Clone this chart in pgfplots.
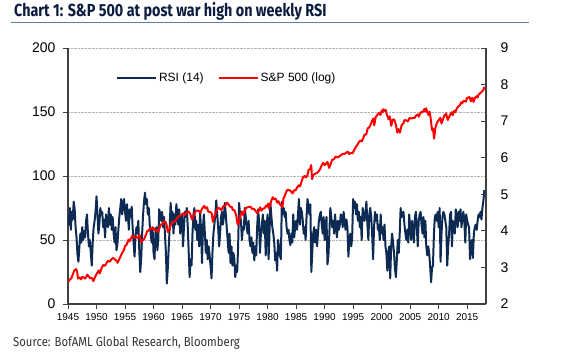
\documentclass[border=0pt]{standalone}
\usepackage{fontspec}
\setmainfont{Liberation Sans}
\newfontfamily\titlefont{Fira Sans}[FakeStretch=0.82]
\newfontfamily\sourcefont{Fira Sans}[FakeStretch=0.87]
\usepackage{pgfplots}
\pgfplotsset{compat=1.18}
\definecolor{rsi}{HTML}{0C2A52}
\definecolor{spx}{HTML}{FF0000}
\definecolor{axgray}{HTML}{404040}
\definecolor{titlecol}{HTML}{0B1B3F}
\definecolor{ulblue}{HTML}{5A7DB5}
\definecolor{srccol}{HTML}{333333}
\begin{document}
\begin{tikzpicture}
\path[use as bounding box] (-68bp,-54bp) rectangle (502bp,304bp);
\begin{axis}[
  at={(0,0)}, anchor=south west,
  scale only axis, width=418bp, height=256bp,
  xmin=1945, xmax=2018.3, ymin=0, ymax=200,
  axis x line*=bottom, axis y line*=left,
  axis line style={axgray, line width=1.2pt, -},
  xtick={1945,1950,...,2015}, ytick={0,50,...,200},
  /pgf/number format/assume math mode=true,
  /pgf/number format/1000 sep={},
  x tick label style={font=\fontsize{10bp}{10bp}\selectfont, yshift=-1bp},
  y tick label style={font=\fontsize{14bp}{14bp}\selectfont, xshift=-4bp},
  tick align=outside, major tick length=5bp,
  tick style={axgray, line width=1pt},
  ymajorgrids, grid style={densely dotted, gray!60, line width=0.7pt},
]
\addplot[rsi, line width=2pt, line join=round] coordinates {
(1945.00,70)(1945.17,62)(1945.33,75)(1945.50,58)(1945.67,72)(1945.83,66)
(1946.00,80)(1946.17,74)(1946.33,60)(1946.50,52)(1946.67,38)(1946.83,33)
(1947.00,45)(1947.17,55)(1947.33,48)(1947.50,60)(1947.67,50)(1947.83,57)
(1948.00,52)(1948.17,65)(1948.33,70)(1948.50,55)(1948.67,45)(1948.83,50)
(1949.00,40)(1949.17,30)(1949.33,48)(1949.50,60)(1949.67,65)(1949.83,72)
(1950.00,84)(1950.17,70)(1950.33,55)(1950.50,62)(1950.67,75)(1950.83,70)
(1951.00,72)(1951.17,60)(1951.33,66)(1951.50,52)(1951.67,70)(1951.83,64)
(1952.00,60)(1952.17,75)(1952.33,62)(1952.50,70)(1952.67,58)(1952.83,68)
(1953.00,55)(1953.17,48)(1953.33,60)(1953.50,42)(1953.67,47)(1953.83,58)
(1954.00,68)(1954.17,75)(1954.33,82)(1954.50,70)(1954.67,78)(1954.83,82)
(1955.00,72)(1955.17,65)(1955.33,78)(1955.50,70)(1955.67,58)(1955.83,74)
(1956.00,68)(1956.17,76)(1956.33,60)(1956.50,48)(1956.67,37)(1956.83,52)
(1957.00,60)(1957.17,55)(1957.33,65)(1957.50,42)(1957.67,25)(1957.83,35)
(1958.00,55)(1958.17,70)(1958.33,80)(1958.50,87)(1958.67,78)(1958.83,82)
(1959.00,70)(1959.17,75)(1959.33,62)(1959.50,55)(1959.67,48)(1959.83,60)
(1960.00,40)(1960.17,35)(1960.33,55)(1960.50,60)(1960.67,42)(1960.83,50)
(1961.00,74)(1961.17,70)(1961.33,65)(1961.50,72)(1961.67,60)(1961.83,68)
(1962.00,55)(1962.17,40)(1962.33,16)(1962.50,28)(1962.67,45)(1962.83,60)
(1963.00,79)(1963.17,65)(1963.33,72)(1963.50,55)(1963.67,70)(1963.83,62)
(1964.00,78)(1964.17,70)(1964.33,62)(1964.50,74)(1964.67,55)(1964.83,66)
(1965.00,70)(1965.17,45)(1965.33,60)(1965.50,72)(1965.67,68)(1965.83,75)
(1966.00,60)(1966.17,40)(1966.33,21)(1966.50,35)(1966.67,30)(1966.83,55)
(1967.00,70)(1967.17,75)(1967.33,58)(1967.50,65)(1967.67,50)(1967.83,62)
(1968.00,45)(1968.17,72)(1968.33,58)(1968.50,32)(1968.67,60)(1968.83,70)
(1969.00,55)(1969.17,40)(1969.33,50)(1969.50,35)(1969.67,45)(1969.83,38)
(1970.00,30)(1970.17,20)(1970.33,40)(1970.50,55)(1970.67,62)(1970.83,70)
(1971.00,81)(1971.17,70)(1971.33,60)(1971.50,45)(1971.67,55)(1971.83,68)
(1972.00,72)(1972.17,62)(1972.33,68)(1972.50,79)(1972.67,70)(1972.83,60)
(1973.00,50)(1973.17,40)(1973.33,55)(1973.50,32)(1973.67,45)(1973.83,30)
(1974.00,40)(1974.17,35)(1974.33,21)(1974.50,30)(1974.67,25)(1974.83,45)
(1975.00,79)(1975.17,70)(1975.33,65)(1975.50,50)(1975.67,60)(1975.83,58)
(1976.00,75)(1976.17,68)(1976.33,60)(1976.50,55)(1976.67,65)(1976.83,50)
(1977.00,45)(1977.17,52)(1977.33,40)(1977.50,48)(1977.67,34)(1977.83,45)
(1978.00,38)(1978.17,60)(1978.33,74)(1978.50,65)(1978.67,40)(1978.83,55)
(1979.00,62)(1979.17,70)(1979.33,55)(1979.50,65)(1979.67,38)(1979.83,60)
(1980.00,70)(1980.17,35)(1980.33,55)(1980.50,79)(1980.67,68)(1980.83,60)
(1981.00,55)(1981.17,48)(1981.33,34)(1981.50,40)(1981.67,26)(1981.83,50)
(1982.00,45)(1982.17,38)(1982.33,35)(1982.50,80)(1982.67,70)(1982.83,75)
(1983.00,68)(1983.17,72)(1983.33,60)(1983.50,55)(1983.67,58)(1983.83,50)
(1984.00,46)(1984.17,55)(1984.33,48)(1984.50,70)(1984.67,52)(1984.83,60)
(1985.00,65)(1985.17,58)(1985.33,70)(1985.50,82)(1985.67,62)(1985.83,75)
(1986.00,72)(1986.17,65)(1986.33,55)(1986.50,60)(1986.67,50)(1986.83,68)
(1987.00,82)(1987.17,75)(1987.33,70)(1987.50,78)(1987.67,25)(1987.83,40)
(1988.00,55)(1988.17,60)(1988.33,48)(1988.50,58)(1988.67,45)(1988.83,55)
(1989.00,65)(1989.17,70)(1989.33,72)(1989.50,62)(1989.67,55)(1989.83,68)
(1990.00,50)(1990.17,60)(1990.33,68)(1990.50,31)(1990.67,38)(1990.83,55)
(1991.00,75)(1991.17,68)(1991.33,60)(1991.50,65)(1991.67,55)(1991.83,70)
(1992.00,60)(1992.17,52)(1992.33,65)(1992.50,58)(1992.67,62)(1992.83,70)
(1993.00,68)(1993.17,60)(1993.33,72)(1993.50,65)(1993.67,58)(1993.83,66)
(1994.00,60)(1994.17,37)(1994.33,50)(1994.50,55)(1994.67,45)(1994.83,52)
(1995.00,82)(1995.17,75)(1995.33,80)(1995.50,70)(1995.67,78)(1995.83,65)
(1996.00,72)(1996.17,60)(1996.33,68)(1996.50,50)(1996.67,75)(1996.83,70)
(1997.00,65)(1997.17,72)(1997.33,80)(1997.50,62)(1997.67,50)(1997.83,70)
(1998.00,75)(1998.17,68)(1998.33,55)(1998.50,35)(1998.67,60)(1998.83,72)
(1999.00,65)(1999.17,70)(1999.33,58)(1999.50,62)(1999.67,50)(1999.83,70)
(2000.00,55)(2000.17,60)(2000.33,50)(2000.50,62)(2000.67,45)(2000.83,40)
(2001.00,26)(2001.17,40)(2001.33,45)(2001.50,20)(2001.67,45)(2001.83,55)
(2002.00,48)(2002.17,40)(2002.33,28)(2002.50,21)(2002.67,35)(2002.83,50)
(2003.00,40)(2003.17,55)(2003.33,75)(2003.50,68)(2003.67,70)(2003.83,72)
(2004.00,62)(2004.17,55)(2004.33,50)(2004.50,58)(2004.67,48)(2004.83,70)
(2005.00,60)(2005.17,50)(2005.33,65)(2005.50,55)(2005.67,48)(2005.83,68)
(2006.00,72)(2006.17,60)(2006.33,45)(2006.50,65)(2006.67,70)(2006.83,72)
(2007.00,62)(2007.17,55)(2007.33,68)(2007.50,52)(2007.67,65)(2007.83,45)
(2008.00,38)(2008.17,45)(2008.33,40)(2008.50,30)(2008.67,17)(2008.83,28)
(2009.00,30)(2009.17,55)(2009.33,68)(2009.50,70)(2009.67,65)(2009.83,72)
(2010.00,60)(2010.17,75)(2010.33,33)(2010.50,55)(2010.67,68)(2010.83,72)
(2011.00,70)(2011.17,65)(2011.33,60)(2011.50,30)(2011.67,45)(2011.83,55)
(2012.00,70)(2012.17,72)(2012.33,45)(2012.50,65)(2012.67,60)(2012.83,55)
(2013.00,74)(2013.17,68)(2013.33,60)(2013.50,72)(2013.67,65)(2013.83,74)
(2014.00,60)(2014.17,68)(2014.33,72)(2014.50,65)(2014.67,48)(2014.83,70)
(2015.00,65)(2015.17,62)(2015.33,60)(2015.50,35)(2015.67,48)(2015.83,50)
(2016.00,36)(2016.17,55)(2016.33,60)(2016.50,62)(2016.67,58)(2016.83,65)
(2017.00,70)(2017.17,68)(2017.33,72)(2017.50,66)(2017.67,75)(2017.83,80)
(2018.00,89)
};
\end{axis}
\begin{axis}[
  at={(0,0)}, anchor=south west,
  scale only axis, width=418bp, height=256bp,
  xmin=1945, xmax=2018.3, ymin=2, ymax=9,
  axis x line=none, axis y line*=right,
  axis line style={axgray, line width=1.2pt, -},
  ytick={2,3,...,9},
  /pgf/number format/assume math mode=true,
  y tick label style={font=\fontsize{14bp}{14bp}\selectfont, xshift=11bp},
  tick align=inside, major tick length=5bp,
  tick style={axgray, line width=1pt},
  legend style={draw=none, fill=none, at={(axis description cs:0.115,0.883)}, anchor=west,
    legend columns=2, font=\fontsize{12bp}{12bp}\selectfont, inner sep=0pt,
    /tikz/every even column/.append style={column sep=12bp}},
  legend image code/.code={\draw[#1] (0bp,0bp) -- (39bp,0bp);},
]
\addlegendimage{rsi, line width=1.8pt}
\addlegendentry{RSI (14)}
\addplot[spx, line width=2pt, line join=round] coordinates {
(1945.0,2.603)(1945.3,2.660)(1945.6,2.708)(1945.9,2.833)(1946.1,2.918)(1946.4,2.955)
(1946.6,2.890)(1946.75,2.695)(1947.0,2.728)(1947.3,2.674)(1947.5,2.741)(1947.8,2.721)
(1948.0,2.695)(1948.4,2.803)(1948.7,2.741)(1948.9,2.708)(1949.2,2.708)(1949.45,2.625)
(1949.7,2.721)(1950.0,2.821)(1950.4,2.918)(1950.55,2.833)(1950.9,2.986)(1951.2,3.068)
(1951.5,3.045)(1951.8,3.135)(1952.0,3.178)(1952.3,3.157)(1952.6,3.219)(1952.9,3.258)
(1953.1,3.239)(1953.5,3.178)(1953.7,3.127)(1953.9,3.199)(1954.2,3.296)(1954.5,3.401)
(1954.8,3.466)(1955.0,3.584)(1955.3,3.624)(1955.6,3.761)(1955.8,3.714)(1956.0,3.784)
(1956.3,3.871)(1956.5,3.850)(1956.8,3.807)(1957.0,3.829)(1957.3,3.807)(1957.55,3.892)
(1957.8,3.689)(1958.0,3.726)(1958.3,3.761)(1958.6,3.871)(1958.9,3.989)(1959.2,4.025)
(1959.5,4.078)(1959.8,4.043)(1960.0,4.078)(1960.3,4.007)(1960.6,4.025)(1960.8,3.970)
(1961.0,4.060)(1961.3,4.174)(1961.6,4.190)(1961.9,4.263)(1962.1,4.248)(1962.3,4.159)
(1962.5,3.970)(1962.8,4.025)(1963.0,4.159)(1963.3,4.234)(1963.6,4.248)(1963.9,4.290)
(1964.2,4.369)(1964.5,4.407)(1964.8,4.431)(1965.1,4.466)(1965.4,4.489)(1965.5,4.431)
(1965.8,4.500)(1966.1,4.533)(1966.4,4.477)(1966.6,4.382)(1966.8,4.304)(1967.0,4.407)
(1967.3,4.522)(1967.6,4.554)(1967.9,4.554)(1968.2,4.489)(1968.5,4.605)(1968.9,4.682)
(1969.1,4.615)(1969.4,4.644)(1969.6,4.522)(1969.9,4.522)(1970.2,4.477)(1970.4,4.248)
(1970.6,4.357)(1970.9,4.500)(1971.2,4.605)(1971.4,4.635)(1971.7,4.595)(1971.9,4.564)
(1972.2,4.673)(1972.5,4.673)(1972.9,4.771)(1973.1,4.736)(1973.4,4.663)(1973.7,4.654)
(1973.9,4.575)(1974.2,4.564)(1974.5,4.419)(1974.75,4.174)(1974.95,4.220)(1975.2,4.407)
(1975.5,4.533)(1975.7,4.431)(1975.9,4.500)(1976.2,4.625)(1976.5,4.644)(1976.8,4.654)
(1977.0,4.663)(1977.3,4.595)(1977.6,4.605)(1977.9,4.543)(1978.2,4.477)(1978.5,4.564)
(1978.7,4.644)(1978.9,4.554)(1979.2,4.605)(1979.5,4.625)(1979.75,4.691)(1979.9,4.663)
(1980.1,4.745)(1980.25,4.605)(1980.5,4.754)(1980.9,4.920)(1981.1,4.868)(1981.4,4.883)
(1981.7,4.771)(1981.9,4.812)(1982.2,4.718)(1982.6,4.644)(1982.8,4.898)(1983.0,4.956)
(1983.3,5.075)(1983.5,5.124)(1983.9,5.106)(1984.1,5.075)(1984.4,5.024)(1984.6,5.106)
(1984.9,5.106)(1985.2,5.193)(1985.5,5.247)(1985.7,5.215)(1985.95,5.347)(1986.2,5.460)
(1986.5,5.501)(1986.7,5.460)(1986.95,5.501)(1987.2,5.670)(1987.45,5.687)(1987.65,5.799)
(1987.8,5.416)(1988.0,5.521)(1988.3,5.561)(1988.6,5.580)(1988.9,5.617)(1989.2,5.687)
(1989.5,5.799)(1989.75,5.858)(1990.0,5.799)(1990.2,5.829)(1990.5,5.886)(1990.8,5.720)
(1991.0,5.799)(1991.3,5.940)(1991.6,5.953)(1991.95,6.033)(1992.3,6.004)(1992.6,6.040)
(1992.9,6.075)(1993.2,6.109)(1993.5,6.105)(1993.8,6.142)(1994.1,6.163)(1994.3,6.098)
(1994.6,6.131)(1994.9,6.120)(1995.2,6.215)(1995.5,6.301)(1995.8,6.363)(1996.0,6.422)
(1996.3,6.477)(1996.55,6.446)(1996.8,6.551)(1997.0,6.633)(1997.3,6.633)(1997.55,6.802)
(1997.8,6.824)(1998.0,6.877)(1998.3,7.003)(1998.55,7.073)(1998.7,6.888)(1998.95,7.107)
(1999.2,7.162)(1999.5,7.223)(1999.8,7.170)(2000.0,7.286)(2000.2,7.244)(2000.25,7.326)
(2000.5,7.279)(2000.7,7.313)(2000.9,7.185)(2001.2,7.056)(2001.4,7.131)(2001.7,6.872)
(2001.9,7.039)(2002.2,7.048)(2002.5,6.898)(2002.75,6.685)(2002.95,6.780)(2003.2,6.685)
(2003.5,6.888)(2003.8,6.937)(2004.0,7.030)(2004.3,7.021)(2004.6,6.994)(2004.9,7.090)
(2005.2,7.073)(2005.5,7.090)(2005.8,7.090)(2006.0,7.147)(2006.35,7.185)(2006.5,7.123)
(2006.9,7.251)(2007.15,7.237)(2007.5,7.333)(2007.6,7.265)(2007.8,7.352)(2008.0,7.244)
(2008.2,7.170)(2008.4,7.258)(2008.55,7.131)(2008.8,6.802)(2008.9,6.745)(2009.0,6.802)
(2009.2,6.522)(2009.4,6.802)(2009.7,6.957)(2009.95,7.016)(2010.3,7.090)(2010.5,6.937)
(2010.8,7.073)(2011.0,7.155)(2011.3,7.208)(2011.6,7.030)(2011.8,7.107)(2012.0,7.170)
(2012.3,7.244)(2012.45,7.162)(2012.7,7.279)(2012.9,7.244)(2013.2,7.352)(2013.45,7.402)
(2013.7,7.432)(2013.95,7.518)(2014.1,7.484)(2014.4,7.560)(2014.8,7.534)(2014.95,7.630)
(2015.4,7.659)(2015.65,7.544)(2015.9,7.640)(2016.1,7.528)(2016.4,7.645)(2016.7,7.682)
(2016.85,7.645)(2017.0,7.728)(2017.3,7.766)(2017.6,7.812)(2017.85,7.855)(2018.0,7.919)
(2018.05,7.937)
};
\addlegendentry{S\&P 500 (log)}
\end{axis}
\node[anchor=base west, inner sep=0pt, text=titlecol] at (-54bp,287bp)
  {\titlefont\bfseries\fontsize{17.5bp}{18bp}\selectfont Chart 1: S\&P 500 at post war high on weekly RSI};
\draw[ulblue, line width=0.8pt] (-57bp,282bp) -- (461bp,282bp);
\node[anchor=base west, inner sep=0pt, text=srccol] at (-55bp,-42bp)
  {\sourcefont\fontsize{13bp}{13bp}\selectfont Source: BofAML Global Research, Bloomberg};
\end{tikzpicture}
\end{document}
